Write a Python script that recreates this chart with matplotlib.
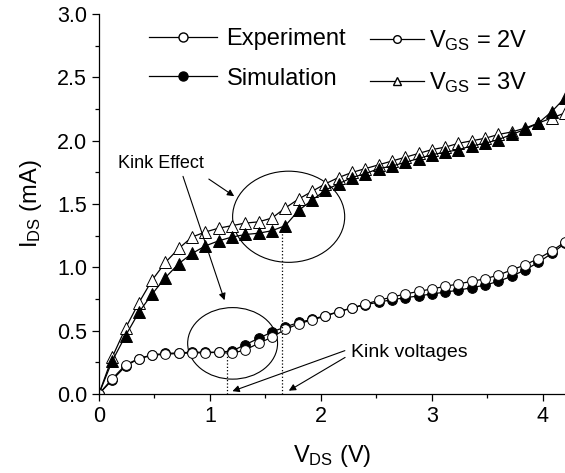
import numpy as np
import matplotlib
matplotlib.use("Agg")
import matplotlib.pyplot as plt
from matplotlib.lines import Line2D
from matplotlib.patches import Ellipse

plt.rcParams['font.family'] = ['Liberation Sans', 'DejaVu Sans']
plt.rcParams['mathtext.fontset'] = 'custom'
plt.rcParams['mathtext.rm'] = 'Liberation Sans'
plt.rcParams['mathtext.it'] = 'Liberation Sans'

# drain voltage (V)
vds = [0.00, 0.12, 0.24, 0.36, 0.48, 0.60, 0.72, 0.84, 0.96, 1.08, 1.20, 1.32,
       1.44, 1.56, 1.68, 1.80, 1.92, 2.04, 2.16, 2.28, 2.40, 2.52, 2.64, 2.76,
       2.88, 3.00, 3.12, 3.24, 3.36, 3.48, 3.60, 3.72, 3.84, 3.96, 4.08, 4.20]

# VGS = 3V
exp3 = [0.00, 0.29, 0.52, 0.72, 0.90, 1.04, 1.15, 1.24, 1.28, 1.31, 1.33, 1.35,
        1.36, 1.39, 1.47, 1.54, 1.60, 1.66, 1.71, 1.75, 1.78, 1.81, 1.84, 1.87,
        1.90, 1.93, 1.95, 1.98, 2.00, 2.02, 2.05, 2.07, 2.10, 2.14, 2.18, 2.22]
sim3 = [0.00, 0.26, 0.46, 0.645, 0.79, 0.92, 1.03, 1.11, 1.17, 1.21, 1.24, 1.26,
        1.27, 1.29, 1.33, 1.45, 1.53, 1.61, 1.66, 1.71, 1.74, 1.78, 1.80, 1.83,
        1.86, 1.89, 1.91, 1.93, 1.96, 1.98, 2.01, 2.05, 2.09, 2.14, 2.23, 2.34]

# VGS = 2V
exp2 = [0.00, 0.12, 0.23, 0.28, 0.305, 0.315, 0.32, 0.325, 0.325, 0.33, 0.32, 0.35,
        0.40, 0.45, 0.51, 0.555, 0.585, 0.615, 0.65, 0.68, 0.71, 0.74, 0.765, 0.79,
        0.81, 0.83, 0.85, 0.87, 0.89, 0.91, 0.94, 0.98, 1.02, 1.07, 1.13, 1.20]
sim2 = [0.00, 0.11, 0.22, 0.28, 0.31, 0.32, 0.325, 0.33, 0.33, 0.33, 0.34, 0.39,
        0.44, 0.49, 0.53, 0.565, 0.59, 0.62, 0.65, 0.68, 0.705, 0.725, 0.745, 0.76,
        0.775, 0.79, 0.805, 0.82, 0.84, 0.86, 0.89, 0.93, 0.98, 1.04, 1.11, 1.19]

fig = plt.figure(figsize=(5.65, 4.73), dpi=100)
ax = fig.add_axes([0.175, 0.167, 0.825, 0.803])

lw = 0.9
ax.plot(vds, exp3, '-^', color='black', mfc='white', mec='black', ms=8, lw=lw, mew=0.7)
ax.plot(vds, sim3, '-^', color='black', mfc='black', mec='black', ms=8, lw=lw, mew=0.7)
ax.plot(vds, sim2, '-o', color='black', mfc='black', mec='black', ms=7, lw=lw, mew=0.7)
ax.plot(vds, exp2, '-o', color='black', mfc='white', mec='black', ms=7, lw=lw, mew=0.7)

# ellipses round the kinks
ax.add_patch(Ellipse((1.71, 1.40), 1.01, 0.72, fill=False, lw=0.8, color='black'))
ax.add_patch(Ellipse((1.205, 0.40), 0.81, 0.565, fill=False, lw=0.8, color='black'))

# kink voltage markers
ax.plot([1.15, 1.15], [0, 0.34], ':', color='black', lw=0.9)
ax.plot([1.65, 1.65], [0, 1.33], ':', color='black', lw=0.9)

arr = dict(arrowstyle='-|>', color='black', lw=0.8, mutation_scale=10)
ax.text(0.17, 1.82, 'Kink Effect', fontsize=13, va='center', ha='left')
ax.annotate('', xy=(1.24, 1.55), xytext=(0.97, 1.71), arrowprops=arr)
ax.annotate('', xy=(1.14, 0.72), xytext=(0.75, 1.74), arrowprops=arr)
ax.text(2.27, 0.33, 'Kink voltages', fontsize=14, va='center', ha='left')
ax.annotate('', xy=(1.18, 0.015), xytext=(2.24, 0.35), arrowprops=arr)
ax.annotate('', xy=(1.69, 0.015), xytext=(2.24, 0.30), arrowprops=arr)

ax.set_xlim(0, 4.2)
ax.set_ylim(0, 3.0)
ax.set_xticks([0, 1, 2, 3, 4])
ax.set_xticks(np.arange(0.5, 4.2, 1.0), minor=True)
ax.set_yticks(np.arange(0, 3.01, 0.5))
ax.set_yticks(np.arange(0.25, 3.0, 0.5), minor=True)
ax.yaxis.set_major_formatter(plt.FormatStrFormatter('%.1f'))
ax.tick_params(which='major', direction='out', length=5, width=0.9, labelsize=15.5)
ax.tick_params(which='minor', direction='out', length=3, width=0.9)
ax.spines['top'].set_visible(False)
ax.spines['right'].set_visible(False)
for s in ['left', 'bottom']:
    ax.spines[s].set_linewidth(0.9)

ax.set_xlabel('V$_{\\mathrm{DS}}$ (V)', fontsize=17, labelpad=12)
ax.set_ylabel('I$_{\\mathrm{DS}}$ (mA)', fontsize=17, labelpad=9)

h1 = [Line2D([], [], color='black', marker='o', mfc='white', ms=6.5, lw=lw),
      Line2D([], [], color='black', marker='o', mfc='black', ms=6.5, lw=lw)]
leg1 = ax.legend(h1, ['Experiment', 'Simulation'], loc='upper left',
                 bbox_to_anchor=(0.062, 1.02), frameon=False, fontsize=17,
                 handlelength=2.9, handletextpad=0.38, labelspacing=0.75)
ax.add_artist(leg1)
h2 = [Line2D([], [], color='black', marker='o', mfc='white', ms=5.5, lw=lw),
      Line2D([], [], color='black', marker='^', mfc='white', ms=6, lw=lw)]
ax.legend(h2, ['V$_{\\mathrm{GS}}$ = 2V', 'V$_{\\mathrm{GS}}$ = 3V'], loc='upper left',
          bbox_to_anchor=(0.536, 1.02), frameon=False, fontsize=17,
          handlelength=2.3, handletextpad=0.2, labelspacing=0.75)

fig.savefig('out.png', dpi=100)
